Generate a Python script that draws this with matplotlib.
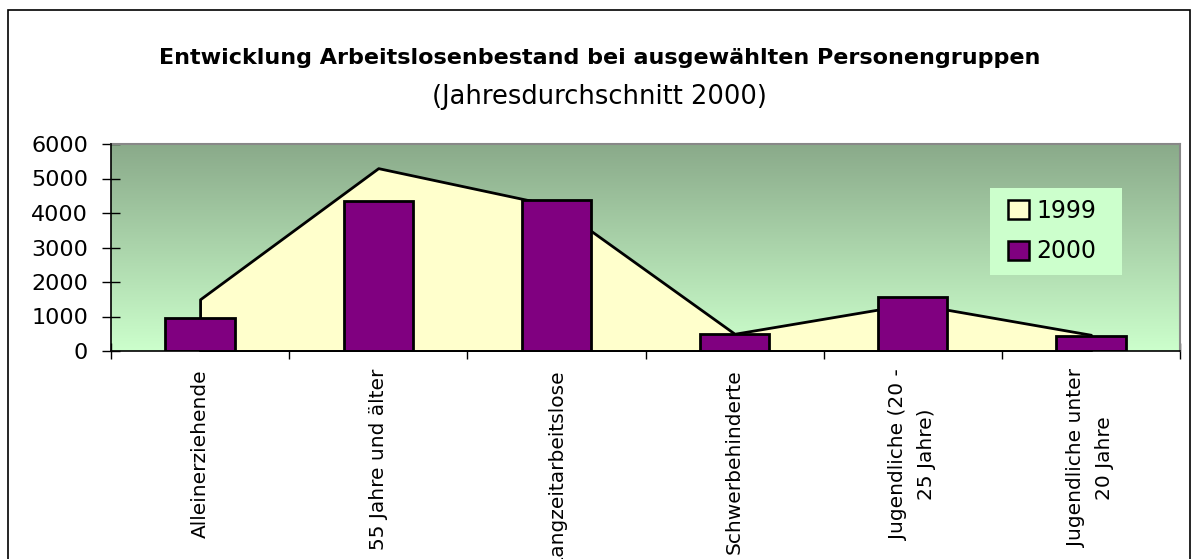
import numpy as np
import matplotlib
matplotlib.use("Agg")
import matplotlib.pyplot as plt
from matplotlib.patches import Patch, Rectangle
from matplotlib.colors import LinearSegmentedColormap

# Daten
kategorien = [
    "Alleinerziehende",
    "55 Jahre und älter",
    "Langzeitarbeitslose",
    "Schwerbehinderte",
    "Jugendliche (20 -\n25 Jahre)",
    "Jugendliche unter\n20 Jahre",
]
werte_1999 = [1500, 5300, 4200, 500, 1370, 470]
werte_2000 = [950, 4340, 4390, 490, 1570, 440]
y_ticks = [0, 1000, 2000, 3000, 4000, 5000, 6000]

plt.rcParams['font.family'] = ['DejaVu Sans']

fig = plt.figure(figsize=(11.99, 5.59), dpi=100)
fig.patch.set_facecolor('white')

# äußerer Rahmen (unten abgeschnitten)
fig.patches.append(Rectangle((8 / 1199, -0.2), (1190 - 8) / 1199, 1.2 - 10 / 559,
                             transform=fig.transFigure, fill=False,
                             edgecolor='black', linewidth=1.2))

ax = fig.add_axes([111 / 1199, 1 - 351 / 559, (1180 - 111) / 1199, (351 - 144) / 559])

x = np.arange(len(kategorien))
ax.set_xlim(-0.5, len(kategorien) - 0.5)
ax.set_ylim(0, 6000)

# Hintergrund-Verlauf
cmap = LinearSegmentedColormap.from_list('bg', ['#CCFFCC', '#8AAA8A'])
grad = np.linspace(0, 1, 256).reshape(-1, 1)
ax.imshow(grad, extent=[-0.5, len(kategorien) - 0.5, 0, 6000], origin='lower',
          aspect='auto', cmap=cmap, zorder=0)

# 1999 als Fläche
ax.fill_between(x, werte_1999, 0, facecolor='#FFFFCC', edgecolor='black',
                linewidth=2, zorder=2)

# 2000 als Säulen
ax.bar(x, werte_2000, width=0.39, color='#800080', edgecolor='black',
       linewidth=2, zorder=3)

ax.set_yticks(y_ticks)
ax.set_yticklabels([str(v) for v in y_ticks], fontsize=16)
ax.set_xticks(np.arange(-0.5, len(kategorien), 1.0))
ax.set_xticklabels([])
ax.set_xticks(x, minor=True)
ax.set_xticklabels(kategorien, minor=True, rotation=90, fontsize=14.5,
                   va='top', ha='center', multialignment='center', linespacing=1.6)
ax.tick_params(axis='x', which='minor', length=0, pad=13)
ax.tick_params(axis='x', which='major', direction='inout', length=12, width=1)
ax.tick_params(axis='y', direction='inout', length=13, width=1, pad=10)

for s in ['top', 'right']:
    ax.spines[s].set_color('#888888')
    ax.spines[s].set_linewidth(1.5)
for s in ['left', 'bottom']:
    ax.spines[s].set_color('black')
    ax.spines[s].set_linewidth(1.2)
    ax.spines[s].set_zorder(5)

# Legende: Hintergrundkasten separat, damit die Maße stimmen
ax.add_patch(Rectangle((0.8223, 0.3671), 0.9457 - 0.8223, 0.7874 - 0.3671,
                       transform=ax.transAxes, facecolor='#CCFFCC',
                       edgecolor='none', zorder=6))
handles = [Patch(facecolor='#FFFFCC', edgecolor='black', linewidth=1.8, label='1999'),
           Patch(facecolor='#800080', edgecolor='black', linewidth=1.8, label='2000')]
leg = ax.legend(handles=handles, loc='upper left', bbox_to_anchor=(0.839, 0.735),
                fontsize=17, frameon=False, handlelength=0.9,
                handleheight=0.85, handletextpad=0.3, borderpad=0,
                labelspacing=0.7, borderaxespad=0)
leg.set_zorder(7)

fig.text(0.5, 1 - 58 / 559, 'Entwicklung Arbeitslosenbestand bei ausgewählten Personengruppen',
         ha='center', va='center', fontsize=16, fontweight='bold')
fig.text(0.5, 1 - 97 / 559, '(Jahresdurchschnitt 2000)', ha='center', va='center',
         fontsize=18.5)

fig.savefig('out.png', dpi=100)
